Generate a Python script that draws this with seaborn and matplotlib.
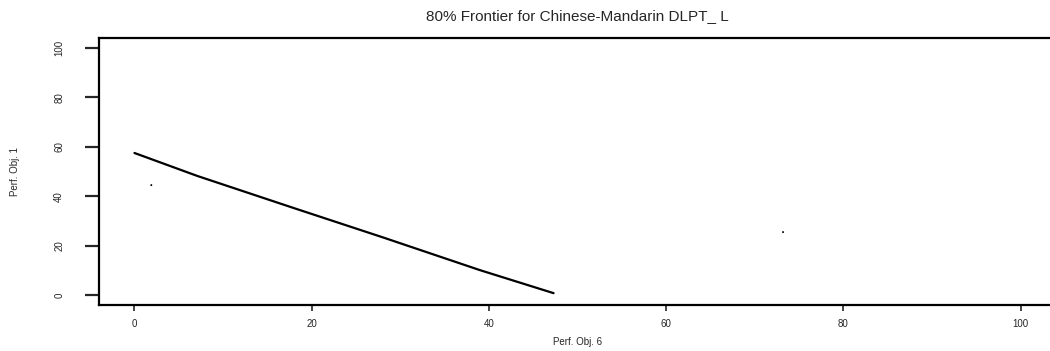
import pandas as pd
import matplotlib.pyplot as plt
import seaborn as sns

# frontier curve
perf_obj_6 = [0, 7.1, 18.0, 28.0, 39.0, 47.3]
perf_obj_1 = [57.5, 48.2, 35.2, 23.4, 10.1, 0.8]

# two stray specks in the scan
speck_x = [1.9, 73.2]
speck_y = [44.5, 25.5]

x_ticks = [0, 20, 40, 60, 80, 100]
y_ticks = [0, 20, 40, 60, 80, 100]

sns.set_style('ticks')
plt.rcParams['font.family'] = ['Liberation Sans', 'DejaVu Sans']

df = pd.DataFrame({'obj6': perf_obj_6, 'obj1': perf_obj_1})
specks = pd.DataFrame({'x': speck_x, 'y': speck_y})

fig = plt.figure(figsize=(10.5, 3.51), dpi=100)
ax = fig.add_axes([0.0943, 0.131, 0.9114, 0.7607])

sns.lineplot(x='obj6', y='obj1', data=df, color='black', linewidth=1.6,
             sort=False, ax=ax)
sns.scatterplot(x='x', y='y', data=specks, color='black', s=2,
                edgecolor='none', ax=ax)

ax.set_xlim(-4, 104)
ax.set_ylim(-4, 104)
ax.set_xticks(x_ticks)
ax.set_yticks(y_ticks)
ax.tick_params(axis='x', labelsize=7, length=4, width=1.2, pad=6, direction='out')
ax.tick_params(axis='y', labelsize=7, length=10, width=1.6, pad=15, direction='out')
for lbl in ax.get_yticklabels():
    lbl.set_rotation(90)
    lbl.set_va('center')

for side in ['left', 'bottom', 'top']:
    ax.spines[side].set_linewidth(1.6)
    ax.spines[side].set_color('black')
ax.spines['right'].set_visible(False)

ax.set_title('80% Frontier for Chinese-Mandarin DLPT_ L', fontsize=11, pad=13)
ax.set_xlabel('Perf. Obj. 6', fontsize=7, labelpad=6)
ax.set_ylabel('Perf. Obj. 1', fontsize=7, labelpad=25)

fig.savefig('out.png', dpi=100)
